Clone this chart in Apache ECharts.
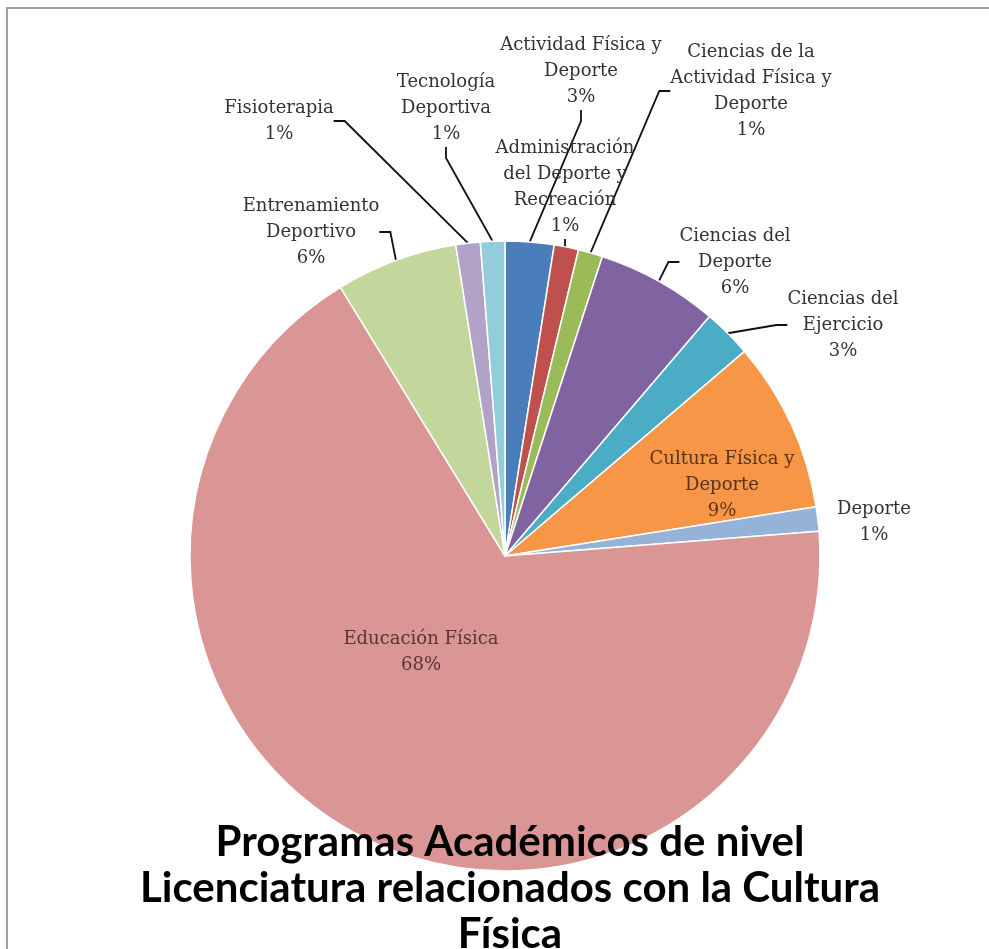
<!DOCTYPE html>
<html>
<head>
<meta charset="utf-8">
<title>Programas Académicos</title>
<script src="https://cdn.jsdelivr.net/npm/echarts@6/dist/echarts.min.js"></script>
<style>
  html, body { margin: 0; padding: 0; background: #fff; }
  #chart { width: 989px; height: 949px; }
</style>
</head>
<body>
<div id="chart"></div>
<script>
// categorias (orden alfabetico, como en Excel)
const categories = [
    "Actividad Física y Deporte",
    "Administración del Deporte y Recreación",
    "Ciencias de la Actividad Física y Deporte",
    "Ciencias del Deporte",
    "Ciencias del Ejercicio",
    "Cultura Física y Deporte",
    "Deporte",
    "Educación Física",
    "Entrenamiento Deportivo",
    "Fisioterapia",
    "Tecnología Deportiva"
]
const counts = [2, 1, 1, 5, 2, 7, 1, 54, 5, 1, 1]

// texto de las etiquetas, cortado como en la imagen
const labelNames = [
    "Actividad Física y\nDeporte",
    "Administración\ndel Deporte y\nRecreación",
    "Ciencias de la\nActividad Física y\nDeporte",
    "Ciencias del\nDeporte",
    "Ciencias del\nEjercicio",
    "Cultura Física y\nDeporte",
    "Deporte",
    "Educación Física",
    "Entrenamiento\nDeportivo",
    "Fisioterapia",
    "Tecnología\nDeportiva"
]

const colors = [
    "#4a7ebb", "#c0504d", "#9bbb59", "#8064a2", "#4bacc6", "#f79646",
    "#95b3d7", "#d99694", "#c3d69b", "#b3a2c7", "#93cddd"
]

// centro de cada bloque de etiqueta (px)
const labelPos = [
    [581, 71], [565, 187], [751, 91], [735, 262], [843, 325], [722, 485],
    [874, 522], [421, 652], [311, 232], [279, 121], [446, 108]
]
// etiquetas sin linea guia
const noLine = ["Cultura Física y Deporte", "Deporte", "Educación Física"]
const insideColor = { "Cultura Física y Deporte": "#5a3418", "Educación Física": "#5a3535" }

const titleText = "Programas Académicos de nivel\nLicenciatura relacionados con la Cultura\nFísica"

const total = counts.reduce((a, b) => a + b, 0)

let chartDom = document.getElementById("chart")
const myChart = echarts.init(chartDom, null, { renderer: "canvas" })

const data = categories.map((name, i) => ({
    name,
    value: counts[i],
    itemStyle: { color: colors[i] },
    label: { color: insideColor[name] || "#333333" },
    labelLine: { show: noLine.indexOf(name) < 0 }
}))

const option = {
    animation: false,
    backgroundColor: "#ffffff",
    title: {
        text: titleText,
        left: 505,
        top: 814,
        textAlign: "center",
        textStyle: {
            fontFamily: "Lato",
            fontWeight: "bold",
            fontSize: 42,
            lineHeight: 46,
            color: "#000"
        }
    },
    graphic: {
        elements: [
            { type: "line", shape: { x1: 6, y1: 8, x2: 989, y2: 8 }, style: { stroke: "#a0a0a0", lineWidth: 2 } },
            { type: "line", shape: { x1: 7, y1: 8, x2: 7, y2: 949 }, style: { stroke: "#a0a0a0", lineWidth: 2 } }
        ]
    },
    series: [
        {
            type: "pie",
            center: [505, 556],
            radius: 315,
            startAngle: 90,
            clockwise: true,
            avoidLabelOverlap: false,
            z: 1,
            itemStyle: { borderColor: "#ffffff", borderWidth: 1.5 },
            label: {
                show: true,
                position: "outside",
                fontFamily: "DejaVu Serif",
                fontSize: 18,
                lineHeight: 26,
                align: "center",
                formatter: (p) => labelNames[p.dataIndex] + "\n" + Math.round(p.value / total * 100) + "%"
            },
            labelLine: {
                show: true,
                length: 10,
                length2: 11,
                lineStyle: { color: "#111", width: 1.8 }
            },
            labelLayout: (params) => {
                const pos = labelPos[params.dataIndex]
                return { x: pos[0], y: pos[1], align: "center", verticalAlign: "middle" }
            },
            data
        }
    ]
}
myChart.setOption(option)
</script>
</body>
</html>
